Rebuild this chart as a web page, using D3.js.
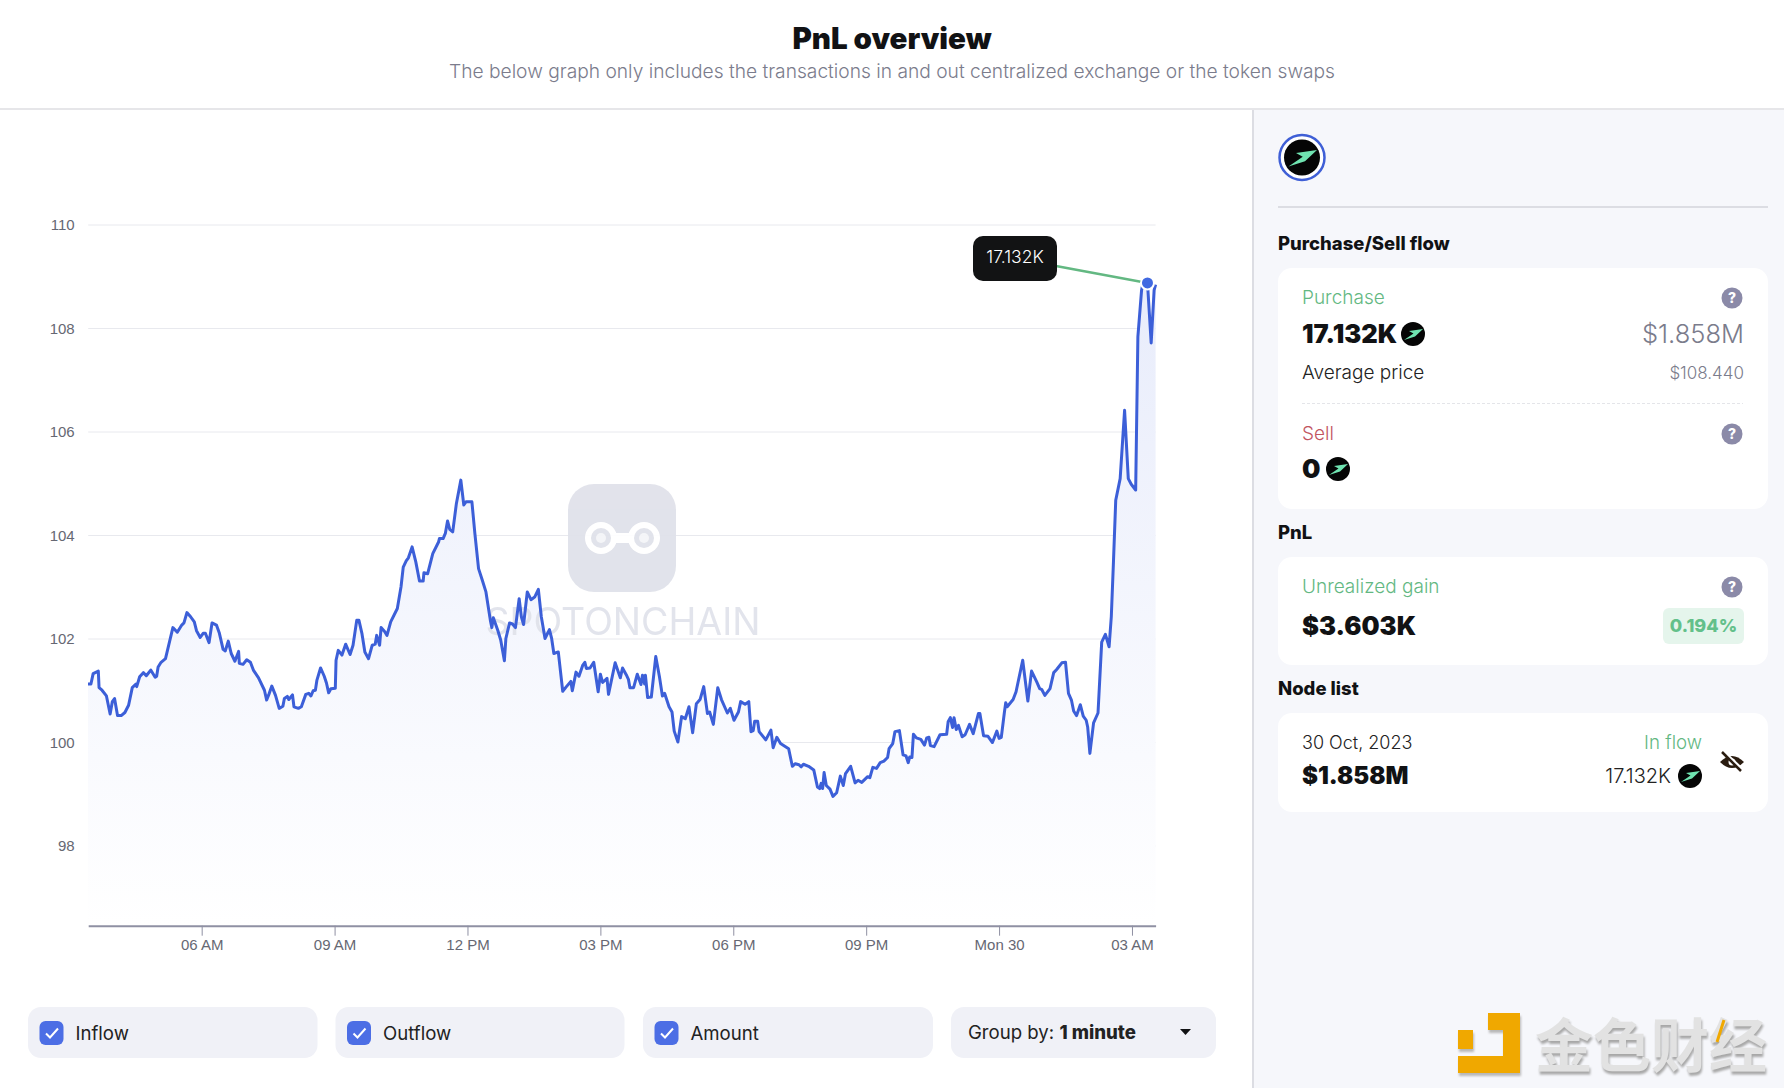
<!DOCTYPE html>
<html>
<head>
  <meta charset="UTF-8">
  <style>
    html, body { margin: 0; padding: 0; background: #fff; }
    svg { display: block; }
    text { font-family: Inter, "Open Sans", sans-serif; }
    .axis text { font-family: "Liberation Sans", Arial, sans-serif; font-size: 15px; fill: #666873; }
  </style>
</head>
<body>
  <svg></svg>
<script src="https://d3js.org/d3.v7.min.js"></script>

<script>
let width = 1784,
    height = 1088;

// minutes after midnight on Oct 29, price in USD
let times = [
  206,210,213,220,221,225,231,236,239,242,
  246,251,256,261,266,271,272,276,281,285,
  291,297,299,301,305,311,321,327,333,336,
  340,345,350,353,358,362,365,370,374,380,
  384,389,392,396,400,405,410,411,416,421,
  426,430,437,445,448,451,455,460,465,470,
  472,476,478,483,485,491,495,501,505,508,
  511,514,516,521,526,529,532,535,541,542,
  545,550,555,561,565,570,573,577,581,586,
  591,595,597,601,603,608,611,616,625,630,
  633,637,640,645,650,655,660,661,666,673,
  681,682,687,690,693,696,700,705,711,715,
  718,726,730,735,740,745,751,753,755,761,
  765,770,772,777,781,785,790,793,796,801,
  806,811,816,820,825,831,834,837,843,849,
  854,860,862,867,871,876,879,881,886,891,
  897,900,903,909,911,920,927,930,935,938,
  940,945,950,955,957,960,961,964,969,975,
  980,984,987,993,997,1000,1005,1010,1015,1020,
  1025,1030,1035,1040,1045,1048,1053,1059,1064,1072,
  1076,1081,1087,1090,1096,1101,1104,1107,1109,1113,
  1115,1124,1131,1134,1139,1144,1155,1160,1164,1169,
  1172,1175,1182,1189,1194,1197,1199,1201,1203,1206,
  1211,1215,1220,1225,1229,1232,1239,1245,1249,1254,
  1262,1265,1269,1274,1279,1284,1289,1291,1296,1299,
  1305,1310,1314,1317,1319,1322,1324,1328,1334,1339,
  1342,1345,1347,1352,1360,1369,1371,1374,1377,1379,
  1382,1385,1390,1394,1400,1405,1412,1414,1419,1425,
  1431,1437,1440,1443,1447,1449,1451,1459,1463,1472,
  1479,1484,1491,1495,1498,1502,1509,1514,1518,1525,
  1530,1534,1538,1541,1545,1550,1554,1558,1560,1563,
  1568,1574,1579,1584,1589,1592,1595,1598,1604,1610,
  1615,1619,1625,1628,1633,1636,1641,1646,1650,1652
];
let prices = [
  101.13,101.13,101.33,101.38,101.06,101.01,100.90,100.55,100.79,100.85,
  100.52,100.52,100.58,100.72,101.06,101.13,101.08,101.27,101.35,101.29,
  101.40,101.26,101.28,101.46,101.55,101.62,102.22,102.13,102.27,102.31,
  102.51,102.43,102.33,102.16,102.03,102.11,102.11,101.93,102.31,102.27,
  102.11,101.80,101.77,101.96,101.72,101.57,101.76,101.53,101.51,101.60,
  101.55,101.40,101.25,101.01,100.82,100.93,101.09,100.91,100.66,100.70,
  100.85,100.89,100.83,100.92,100.69,100.66,100.69,100.93,100.95,100.90,
  101.00,101.01,101.20,101.44,101.28,101.15,100.96,101.04,101.05,101.59,
  101.78,101.69,101.90,101.70,101.88,102.36,102.36,102.11,101.75,101.62,
  101.88,101.90,102.07,101.88,102.22,102.14,102.07,102.33,102.59,103.01,
  103.39,103.51,103.57,103.78,103.49,103.12,103.12,103.28,103.26,103.65,
  103.88,103.94,103.94,104.04,104.28,104.12,104.07,104.62,105.07,104.59,
  104.65,104.65,104.04,103.36,103.14,102.91,102.36,102.22,102.41,102.17,
  101.98,101.58,102.01,102.31,102.29,102.22,102.78,102.43,102.28,102.91,
  102.76,102.81,102.96,102.43,102.01,102.18,102.01,101.72,101.75,100.99,
  101.08,101.18,101.00,101.36,101.28,101.49,101.55,101.43,101.44,101.55,
  100.98,101.32,101.16,101.24,100.93,101.54,101.25,101.44,101.31,101.22,
  101.06,101.06,101.32,101.12,101.30,101.13,101.30,100.87,100.88,101.66,
  101.27,100.90,100.95,100.69,100.59,100.22,100.01,100.50,100.46,100.69,
  100.19,100.75,100.83,101.08,100.56,100.59,100.35,101.06,100.83,100.57,
  100.66,100.43,100.59,100.79,100.74,100.79,100.21,100.23,100.41,100.41,
  100.21,100.05,100.24,99.90,100.10,99.98,99.88,99.54,99.59,99.57,
  99.53,99.58,99.54,99.47,99.14,99.11,99.21,99.11,99.42,99.17,
  99.10,98.96,99.03,99.35,99.17,99.40,99.54,99.22,99.27,99.23,
  99.34,99.32,99.52,99.50,99.61,99.64,99.71,99.88,99.98,100.21,
  100.23,99.76,99.74,99.61,99.72,99.71,100.16,100.09,100.06,99.95,
  100.09,100.10,99.94,99.92,100.15,100.16,100.40,100.48,100.29,100.48,
  100.25,100.33,100.11,100.15,100.35,100.17,100.56,100.56,100.13,100.12,
  100.00,100.22,100.08,100.10,100.56,100.77,100.69,100.83,100.98,101.59,
  100.80,101.38,101.17,101.04,101.02,100.91,101.04,101.35,101.41,101.54,
  101.55,100.95,100.82,100.61,100.52,100.73,100.51,100.43,100.30,99.79,
  100.38,100.57,101.94,102.09,101.85,102.43,103.52,104.68,105.10,106.42,
  105.10,104.99,104.88,107.84,108.74,108.95,108.88,107.72,108.74,108.85
];

let yTicks = [98, 100, 102, 104, 106, 108, 110];
let xTicks = [360, 540, 720, 900, 1080, 1260, 1440, 1620];
let xTickLabels = ["06 AM", "09 AM", "12 PM", "03 PM", "06 PM", "09 PM", "Mon 30", "03 AM"];
let legendItems = ["Inflow", "Outflow", "Amount"];
let highlightTime = 1641;
let highlightPrice = 108.88;

let data = d3.zip(times, prices);

let svg = d3.select("svg")
    .attr("width", width)
    .attr("height", height);

let x = d3.scaleLinear().domain([206.3, 1652]).range([88.2, 1155.6]);
let y = d3.scaleLinear().domain([96.46, 110]).range([925.7, 225]);

let green = "#63b882", grey = "#7b7c8c", ink = "#111214";

function label(parent, px, py, str, size, weight, color, anchor) {
  return parent.append("text")
    .attr("x", px).attr("y", py)
    .attr("font-size", size)
    .attr("font-weight", weight || 400)
    .attr("fill", color || ink)
    .attr("text-anchor", anchor || "start")
    .text(str);
}

function coin(px, py, r) {
  let g = svg.append("g").attr("transform", "translate(" + px + "," + py + ") scale(" + r / 12 + ")");
  g.append("circle").attr("r", 12).attr("fill", "#050505");
  g.append("path").attr("d", "M-9,6 L0.5,-0.5 L-4,-3 L10,-5 L2,2.5 Z").attr("fill", "#6fe3b0");
}

function question(px, py) {
  svg.append("circle").attr("cx", px).attr("cy", py).attr("r", 10.5).attr("fill", "#8b8aa8");
  label(svg, px, py + 5, "?", 14, 800, "#fff", "middle");
}

// header
label(svg, 892, 49, "PnL overview", 29.5, 900, ink, "middle");
label(svg, 892, 78, "The below graph only includes the transactions in and out centralized exchange or the token swaps", 19.2, 300, "#7b7c8c", "middle");
svg.append("rect").attr("x", 0).attr("y", 108).attr("width", width).attr("height", 2).attr("fill", "#e6e6e9");

// side panel
svg.append("rect").attr("x", 1252).attr("y", 110).attr("width", 532).attr("height", 978).attr("fill", "#f6f7fb");
svg.append("rect").attr("x", 1252).attr("y", 110).attr("width", 2).attr("height", 978).attr("fill", "#dcdde3");

// chart
let defs = svg.append("defs");
let grad = defs.append("linearGradient").attr("id", "areaFill")
    .attr("gradientUnits", "userSpaceOnUse")
    .attr("x1", 0).attr("x2", 0).attr("y1", y(109)).attr("y2", y(96.46));
grad.append("stop").attr("offset", "0%").attr("stop-color", "#e8ecfb");
grad.append("stop").attr("offset", "100%").attr("stop-color", "#ffffff");

svg.append("g").selectAll("line")
  .data(yTicks)
  .enter()
  .append("line")
    .attr("x1", x.range()[0]).attr("x2", x.range()[1])
    .attr("y1", d => y(d)).attr("y2", d => y(d))
    .attr("stroke", "#e8e9ee");

svg.append("path")
    .datum(data)
    .attr("fill", "url(#areaFill)")
    .attr("d", d3.area().x(d => x(d[0])).y0(y.range()[0]).y1(d => y(d[1])));

// watermark
let mark = svg.append("g").attr("opacity", 0.95);
mark.append("rect").attr("x", 568).attr("y", 484).attr("width", 108).attr("height", 108).attr("rx", 26).attr("fill", "#e0e2ea");
mark.append("circle").attr("cx", 601).attr("cy", 538).attr("r", 16).attr("fill", "#fff");
mark.append("circle").attr("cx", 644).attr("cy", 538).attr("r", 16).attr("fill", "#fff");
mark.append("rect").attr("x", 605).attr("y", 533).attr("width", 36).attr("height", 10).attr("fill", "#fff");
[601, 644].forEach(c => {
  mark.append("circle").attr("cx", c).attr("cy", 538).attr("r", 10).attr("fill", "#e0e2ea");
  mark.append("circle").attr("cx", c).attr("cy", 538).attr("r", 5).attr("fill", "#f4f5f8");
});
label(mark, 623, 635, "SPOTONCHAIN", 37.5, 400, "#e1e3eb", "middle");

svg.append("path")
    .datum(data)
    .attr("fill", "none")
    .attr("stroke", "#3c5fd8")
    .attr("stroke-width", 3)
    .attr("stroke-linejoin", "round")
    .attr("d", d3.line().x(d => x(d[0])).y(d => y(d[1])));

let yAxis = d3.axisLeft(y).tickValues(yTicks).tickSize(0).tickPadding(13.5).tickFormat(d3.format("d"));
svg.append("g").attr("class", "axis")
    .attr("transform", "translate(" + x.range()[0] + ",0)")
    .call(yAxis)
    .call(g => g.select(".domain").remove());

let xAxis = d3.axisBottom(x).tickValues(xTicks).tickSizeInner(10).tickSizeOuter(0).tickPadding(4)
    .tickFormat((d, i) => xTickLabels[i]);
svg.append("g").attr("class", "axis")
    .attr("transform", "translate(0," + y.range()[0] + ")")
    .call(xAxis)
    .call(g => g.select(".domain").attr("stroke", "#8f90a3").attr("stroke-width", 2))
    .call(g => g.selectAll(".tick line").attr("stroke", "#8f90a3"));

// tooltip
svg.append("line")
    .attr("x1", 1056).attr("y1", 266).attr("x2", x(highlightTime)).attr("y2", y(highlightPrice))
    .attr("stroke", green).attr("stroke-width", 2.5);
svg.append("rect").attr("x", 973).attr("y", 236).attr("width", 84).attr("height", 45).attr("rx", 10).attr("fill", "#121314");
label(svg, 1015, 262.5, "17.132K", 17.5, 300, "#fff", "middle");
svg.append("circle")
    .attr("cx", x(highlightTime)).attr("cy", y(highlightPrice)).attr("r", 6.5)
    .attr("fill", "#4169e1").attr("stroke", "#fff").attr("stroke-width", 2);

// controls under the chart
let boxes = [[28, 289.5], [335.5, 289], [643, 290]];
legendItems.forEach((name, i) => {
  let bx = boxes[i][0];
  svg.append("rect").attr("x", bx).attr("y", 1007).attr("width", boxes[i][1]).attr("height", 51).attr("rx", 13).attr("fill", "#f0f1f7");
  svg.append("rect").attr("x", bx + 11.5).attr("y", 1021).attr("width", 24).attr("height", 24).attr("rx", 6).attr("fill", "#4c6ee5");
  svg.append("path").attr("d", "M" + (bx + 18) + ",1033.5 l4,4 l8,-9")
    .attr("fill", "none").attr("stroke", "#fff").attr("stroke-width", 2);
  label(svg, bx + 47.5, 1040, name, 18.6, 400, "#222");
});
svg.append("rect").attr("x", 951).attr("y", 1007).attr("width", 265).attr("height", 51).attr("rx", 13).attr("fill", "#f0f1f7");
let group = label(svg, 968, 1039, "Group by: ", 18.6, 400, "#222");
group.append("tspan").attr("font-weight", 800).text("1 minute");
svg.append("path").attr("d", "M1180,1029 h11 l-5.5,6 Z").attr("fill", ink);

// side panel content
svg.append("circle").attr("cx", 1302).attr("cy", 157.5).attr("r", 22.5).attr("fill", "#fff").attr("stroke", "#3f5fd6").attr("stroke-width", 2.5);
coin(1302, 157.5, 18);
svg.append("rect").attr("x", 1278).attr("y", 206).attr("width", 490).attr("height", 2).attr("fill", "#dcdde3");

[[268, 241], [557, 108], [713, 99]].forEach(c => {
  svg.append("rect").attr("x", 1278).attr("y", c[0]).attr("width", 490).attr("height", c[1]).attr("rx", 14).attr("fill", "#fff");
});

label(svg, 1278, 250, "Purchase/Sell flow", 18.5, 800);
label(svg, 1302, 304, "Purchase", 19, 300, green);
question(1732, 298);
label(svg, 1302, 343, "17.132K", 25.5, 900);
coin(1413, 334, 12);
label(svg, 1744, 343, "$1.858M", 25.5, 300, grey, "end");
label(svg, 1302, 379, "Average price", 19, 300, "#222");
label(svg, 1744, 379, "$108.440", 17, 300, grey, "end");
svg.append("line").attr("x1", 1302).attr("x2", 1743).attr("y1", 403.5).attr("y2", 403.5)
    .attr("stroke", "#e4e5e9").attr("stroke-dasharray", "3,2");
label(svg, 1302, 440, "Sell", 19, 300, "#c2555f");
question(1732, 434);
label(svg, 1302, 478, "0", 26, 900);
coin(1338, 469, 12);

label(svg, 1278, 539, "PnL", 18.5, 800);
label(svg, 1302, 593, "Unrealized gain", 19, 300, green);
question(1732, 587);
label(svg, 1302, 635, "$3.603K", 25.5, 900);
svg.append("rect").attr("x", 1663).attr("y", 608).attr("width", 81).attr("height", 36).attr("rx", 6).attr("fill", "#e5f5ec");
label(svg, 1703.5, 632, "0.194%", 18, 800, "#63c08a", "middle");

label(svg, 1278, 695, "Node list", 18.5, 800);
label(svg, 1302, 749, "30 Oct, 2023", 18, 300, "#222");
label(svg, 1702, 749, "In flow", 18.7, 300, green, "end");
label(svg, 1302, 784, "$1.858M", 24, 900);
label(svg, 1671, 783, "17.132K", 20, 300, "#222", "end");
coin(1690, 776, 12);

// crossed eye icon
let eye = svg.append("g").attr("transform", "translate(1732,762)");
eye.append("path").attr("d", "M-12,0 Q0,-12 12,0 Q0,12 -12,0 Z").attr("fill", "#2a1c10");
eye.append("circle").attr("r", 3.5).attr("fill", "#fff");
eye.append("line").attr("x1", -8).attr("y1", -10).attr("x2", 11).attr("y2", 8).attr("stroke", "#fff").attr("stroke-width", 3);
eye.append("line").attr("x1", -10).attr("y1", -10).attr("x2", 9).attr("y2", 9).attr("stroke", "#2a1c10").attr("stroke-width", 2.5);

// stamp in the corner
svg.append("path").attr("d", "M1488,1013 h32 v60 h-62 v-17 h45 v-26 h-15 Z M1458,1030 h15 v19 h-15 Z")
    .attr("fill", "#f0a800")
    .style("filter", "drop-shadow(1px 3px 1px #b8b8b8)");
svg.append("text").attr("x", 1535).attr("y", 1067)
    .attr("font-size", 58).attr("font-weight", 700).attr("fill", "#e2e2e2")
    .style("font-family", "'Noto Sans CJK SC'")
    .style("filter", "drop-shadow(1px 3px 1px #a8a8a8)")
    .text("金色财经");
svg.append("line").attr("x1", 1724).attr("y1", 1020).attr("x2", 1717).attr("y2", 1042)
    .attr("stroke", "#f0a800").attr("stroke-width", 3);
</script>
</body>
</html>
